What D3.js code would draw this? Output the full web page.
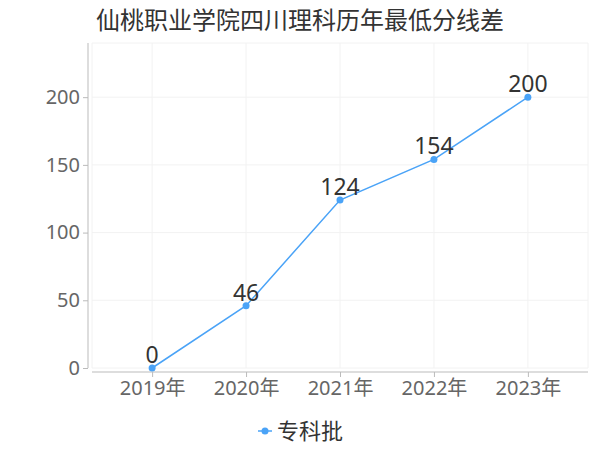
<!DOCTYPE html>
<html><head><meta charset="utf-8">
<script src="https://cdn.jsdelivr.net/npm/d3@7"></script>
<style>body{margin:0;background:#fff;}svg{display:block;font-family:"Noto Sans","Noto Sans CJK SC",sans-serif;}</style>
</head><body>
<svg id="c" width="600" height="450"></svg>
<script>
const title = "仙桃职业学院四川理科历年最低分线差";
const categories = ["2019年","2020年","2021年","2022年","2023年"];
const seriesName = "专科批";
const values = [0, 46, 124, 154, 200];
const yTicks = [0, 50, 100, 150, 200];

(function(){
const svg = d3.select("#c");
const color = "#4aa3f7";
const L = 92, R = 588, T = 43, B = 368;
const FONT = "'Noto Sans','Noto Sans CJK SC',sans-serif";

const x = d3.scalePoint().domain(categories).range([L, R]).padding(0.64);
const y = d3.scaleLinear().domain([0, 240]).range([B, T]);

svg.append("text").attr("x", 300).attr("y", 29).attr("text-anchor", "middle")
  .attr("font-family", "'Noto Sans CJK SC',sans-serif")
  .attr("font-size", 24).attr("fill", "#333").text(title);

const g = svg.append("g");
g.selectAll(".hg").data(yTicks.concat([240])).enter().append("line")
  .attr("x1", L).attr("x2", R).attr("y1", d => y(d)).attr("y2", d => y(d))
  .attr("stroke", "#f2f2f2");
g.selectAll(".vg").data(categories).enter().append("line")
  .attr("x1", d => x(d)).attr("x2", d => x(d)).attr("y1", T).attr("y2", B)
  .attr("stroke", "#f2f2f2");
g.append("line").attr("x1", R).attr("x2", R).attr("y1", T).attr("y2", B).attr("stroke", "#f2f2f2");
g.append("line").attr("x1", L).attr("x2", L).attr("y1", T).attr("y2", B).attr("stroke", "#f2f2f2");

const yAxis = svg.append("g").attr("transform", `translate(${L - 4},0)`)
  .call(d3.axisLeft(y).tickValues(yTicks).tickSize(5).tickPadding(3));
yAxis.select(".domain").attr("stroke", "#bbb").attr("d", `M0,${B}V${T}`);
yAxis.selectAll(".tick line").attr("stroke", "#bbb");
yAxis.selectAll(".tick text").attr("font-size", 20).attr("fill", "#666")
  .attr("font-family", FONT);

const xAxis = svg.append("g").attr("transform", `translate(0,${B + 4})`)
  .call(d3.axisBottom(x).tickSize(5).tickPadding(4));
xAxis.select(".domain").attr("stroke", "#bbb").attr("d", `M${L},0H${R}`);
xAxis.selectAll(".tick line").attr("stroke", "#bbb");
xAxis.selectAll(".tick text").attr("font-size", 20).attr("fill", "#666")
  .attr("font-family", FONT);

const data = categories.map((c, i) => ({c, v: values[i]}));
svg.append("path").datum(data)
  .attr("fill", "none").attr("stroke", color).attr("stroke-width", 1.5)
  .attr("d", d3.line().x(d => x(d.c)).y(d => y(d.v)));
svg.selectAll(".pt").data(data).enter().append("circle")
  .attr("cx", d => x(d.c)).attr("cy", d => y(d.v)).attr("r", 3.5).attr("fill", color);
svg.selectAll(".lbl").data(data).enter().append("text")
  .attr("x", d => x(d.c)).attr("y", d => y(d.v) - 5).attr("text-anchor", "middle")
  .attr("font-family", FONT)
  .attr("font-size", 23).attr("fill", "#333").text(d => d.v);

const lg = svg.append("g").attr("transform", "translate(265,431)");
lg.append("line").attr("x1", -7).attr("x2", 7).attr("stroke", color).attr("stroke-width", 1.5);
lg.append("circle").attr("r", 3.5).attr("fill", color);
lg.append("text").attr("x", 12).attr("y", 8).attr("font-size", 22)
  .attr("font-family", "'Noto Sans CJK SC',sans-serif").attr("fill", "#333").text(seriesName);
})();
</script>
</body></html>
